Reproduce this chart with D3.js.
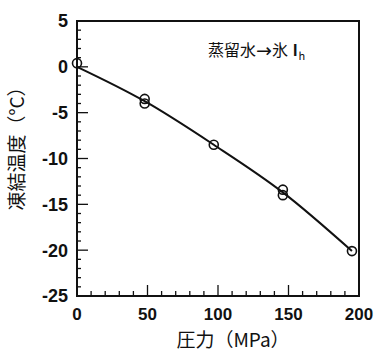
<!DOCTYPE html>
<html><head><meta charset="utf-8">
<script src="https://cdn.jsdelivr.net/npm/d3@7"></script>
<style>
html,body{margin:0;padding:0;background:#fff;}
svg{display:block;}
</style></head>
<body>
<svg id="chart" width="390" height="360"></svg>
<script>
// Data
const pointPressure = [0, 48, 48, 97, 146, 146, 195];
const pointTemp     = [0.4, -3.5, -4.0, -8.5, -13.4, -14.0, -20.1];
const curvePressure = [0, 48, 97, 146, 195];
const curveTemp     = [0, -3.75, -8.5, -13.7, -20.1];
const xTicks = [0, 50, 100, 150, 200];
const yTicks = [5, 0, -5, -10, -15, -20, -25];
const xLabel = "圧力（MPa）";
const yLabel = "凍結温度（°C）";
const annotParts = ["蒸留水", "→", "氷", "I"];
const annotSub = "h";

const svg = d3.select("#chart");
const L = 77, R = 359, T = 21, B = 296;
const x = d3.scaleLinear().domain([0, 200]).range([L, R]);
const y = d3.scaleLinear().domain([-25, 5]).range([B, T]);
const jp = "'Noto Sans CJK JP','Noto Sans',sans-serif";
const num = "'Liberation Sans',Arial,sans-serif";

// frame
svg.append("rect").attr("x", L).attr("y", T).attr("width", R - L).attr("height", B - T)
  .attr("fill", "none").attr("stroke", "#111").attr("stroke-width", 2);

// x axis ticks (inward)
const xMinor = d3.range(10, 200, 10);
svg.append("g").selectAll("line").data(xMinor).join("line")
  .attr("x1", d => x(d)).attr("x2", d => x(d))
  .attr("y1", B).attr("y2", d => B - (d % 50 === 0 ? 11 : 5))
  .attr("stroke", "#111").attr("stroke-width", 1.3);
svg.append("g").selectAll("text").data(xTicks).join("text")
  .attr("x", d => x(d)).attr("y", 320).attr("text-anchor", "middle")
  .attr("font-family", num).attr("font-weight", "bold").attr("font-size", 17)
  .attr("fill", "#111").text(d => d);

// y axis ticks (inward)
const yMinor = d3.range(-24, 5, 1);
svg.append("g").selectAll("line").data(yMinor).join("line")
  .attr("x1", L).attr("x2", d => L + (d % 5 === 0 ? 11 : 4))
  .attr("y1", d => y(d)).attr("y2", d => y(d))
  .attr("stroke", "#111").attr("stroke-width", 1.3);
svg.append("g").selectAll("text").data(yTicks).join("text")
  .attr("x", 68).attr("y", d => y(d)).attr("dy", "0.36em").attr("text-anchor", "end")
  .attr("font-family", num).attr("font-weight", "bold").attr("font-size", 18)
  .attr("fill", "#111").text(d => d);

// curve
const line = d3.line().x(d => x(d[0])).y(d => y(d[1])).curve(d3.curveMonotoneX);
svg.append("path").datum(curvePressure.map((p, i) => [p, curveTemp[i]]))
  .attr("d", line).attr("fill", "none").attr("stroke", "#111").attr("stroke-width", 2);

// points
svg.append("g").selectAll("circle").data(pointPressure.map((p, i) => [p, pointTemp[i]])).join("circle")
  .attr("cx", d => x(d[0])).attr("cy", d => y(d[1])).attr("r", 4.5)
  .attr("fill", "none").attr("stroke", "#111").attr("stroke-width", 1.6);

// annotation
const at = svg.append("text").attr("x", 208).attr("y", 56)
  .attr("font-family", jp).attr("font-size", 16).attr("fill", "#111");
at.append("tspan").text(annotParts[0]);
at.append("tspan").attr("font-family", "'DejaVu Sans',sans-serif").attr("font-size", 19).attr("dy", 1).text(annotParts[1]);
at.append("tspan").attr("dy", -1).text(annotParts[2]);
at.append("tspan").attr("dx", 5).attr("font-family", num).attr("font-weight", "bold").text(annotParts[3]);
at.append("tspan").attr("font-size", 11).attr("dx", 1).attr("dy", 4).text(annotSub);

// axis labels
svg.append("text").attr("x", 233).attr("y", 347).attr("text-anchor", "middle")
  .attr("font-family", jp).attr("font-size", 19).attr("fill", "#111").text(xLabel);
svg.append("text").attr("transform", "translate(24,144) rotate(-90)").attr("text-anchor", "middle")
  .attr("font-family", jp).attr("font-size", 19).attr("fill", "#111").text(yLabel);
</script>
</body></html>
